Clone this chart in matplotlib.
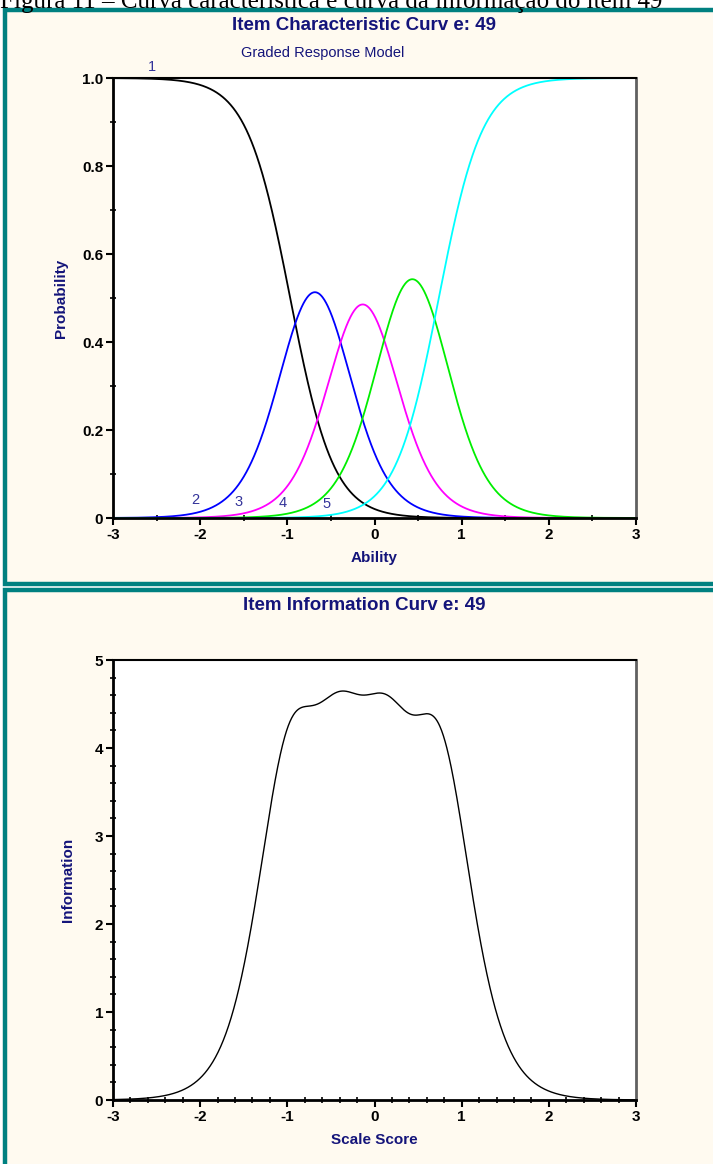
import numpy as np
import matplotlib
matplotlib.use("Agg")
import matplotlib.pyplot as plt
from matplotlib.patches import Rectangle
from matplotlib.ticker import MultipleLocator, FixedLocator

# ---- data: graded response model parameters ----
item_label = "49"
discrimination = 4.0
thresholds = [-0.967, -0.40, 0.13, 0.738]
category_labels = ["1", "2", "3", "4", "5"]
category_colors = ["#000000", "#0000ff", "#ff00ff", "#00ee00", "#00ffff"]
label_pos_x = [-2.55, -2.06, -1.555, -1.05, -0.556]
label_pos_y = [1.025, 0.041, 0.037, 0.034, 0.032]
x_ticks = [-3, -2, -1, 0, 1, 2, 3]
x_tick_labels = ["-3", "-2", "-1", "0", "1", "2", "3"]
p_ticks = [0, 0.2, 0.4, 0.6, 0.8, 1.0]
p_tick_labels = ["0", "0.2", "0.4", "0.6", "0.8", "1.0"]
i_ticks = [0, 1, 2, 3, 4, 5]
i_tick_labels = ["0", "1", "2", "3", "4", "5"]

theta = np.linspace(-3, 3, 1201)


def cum_probs(th):
    a = discrimination
    ps = [np.ones_like(th)]
    for b in thresholds:
        ps.append(1.0 / (1.0 + np.exp(-a * (th - b))))
    ps.append(np.zeros_like(th))
    return ps


pstar = cum_probs(theta)
cat_probs = [pstar[k] - pstar[k + 1] for k in range(len(thresholds) + 1)]
dstar = [discrimination * p * (1 - p) for p in pstar]
info = np.zeros_like(theta)
for k in range(len(cat_probs)):
    dp = dstar[k] - dstar[k + 1]
    info += dp ** 2 / np.maximum(cat_probs[k], 1e-12)

# ---- figure ----
W, H = 713, 1164
fig = plt.figure(figsize=(W / 100, H / 100), dpi=100)
fig.patch.set_facecolor("white")

NAVY = "#14147a"
LBL = "#33339a"
TEAL = "#008080"
CREAM = "#fffaf0"
FONT = ["Liberation Sans Narrow", "Liberation Sans", "DejaVu Sans"]


def fx(px):
    return px / W


def fy(py):
    return 1 - py / H


# caption (cut at top, as in the source)
fig.text(fx(0), fy(8), "Figura 11 \u2013 Curva característica e curva da informação do item 49",
         family=["Liberation Serif", "DejaVu Serif"], fontsize=18, ha="left", va="baseline", color="black")

# panels
for (top, bot) in [(10, 584), (590, 1175)]:
    r = Rectangle((fx(5), fy(bot)), fx(720) - fx(5), fy(top) - fy(bot), transform=fig.transFigure,
                  facecolor=CREAM, edgecolor=TEAL, linewidth=3.2, zorder=0)
    fig.add_artist(r)


def style_axes(ax):
    ax.set_facecolor("white")
    for s in ["left", "bottom"]:
        ax.spines[s].set_linewidth(2.0)
        ax.spines[s].set_color("black")
    ax.spines["top"].set_linewidth(1.5)
    ax.spines["top"].set_color("black")
    ax.spines["right"].set_linewidth(2.0)
    ax.spines["right"].set_color("#606060")
    ax.tick_params(which="major", direction="out", length=5, width=1.5, labelsize=11, pad=2)
    ax.tick_params(which="minor", direction="inout", length=4, width=1.2)
    for t in ax.get_xticklabels() + ax.get_yticklabels():
        t.set_fontweight("bold")
        t.set_family(FONT)


# top axes
ax1 = fig.add_axes([fx(113), fy(518), fx(636) - fx(113), fy(78) - fy(518)])
for p, c in zip(cat_probs, category_colors):
    ax1.plot(theta, p, color=c, lw=1.3, clip_on=False)
ax1.set_xlim(-3, 3)
ax1.set_ylim(0, 1)
ax1.xaxis.set_major_locator(FixedLocator(x_ticks))
ax1.set_xticklabels(x_tick_labels)
ax1.xaxis.set_minor_locator(MultipleLocator(0.5))
ax1.yaxis.set_major_locator(FixedLocator(p_ticks))
ax1.set_yticklabels(p_tick_labels)
ax1.yaxis.set_minor_locator(MultipleLocator(0.1))
style_axes(ax1)
for lab, lx, ly in zip(category_labels, label_pos_x, label_pos_y):
    ax1.text(lx, ly, lab, color=LBL, fontsize=10.5, ha="center", va="center", family=FONT, clip_on=False)
ax1.set_xlabel("Ability", color=NAVY, fontweight="bold", fontsize=11, family=FONT, labelpad=7)
ax1.set_ylabel("Probability", color=NAVY, fontweight="bold", fontsize=11, family=FONT, labelpad=10)
fig.text(fx(364), fy(25), "Item Characteristic Curv e: " + item_label, color=NAVY, fontweight="bold",
         fontsize=13.5, family=FONT, ha="center", va="center")
fig.text(fx(323), fy(53), "Graded Response Model", color=NAVY, fontsize=10.5, family=FONT,
         ha="center", va="center")

# bottom axes
ax2 = fig.add_axes([fx(113), fy(1100), fx(636) - fx(113), fy(660) - fy(1100)])
ax2.plot(theta, info, color="black", lw=1.0)
ax2.set_xlim(-3, 3)
ax2.set_ylim(0, 5)
ax2.xaxis.set_major_locator(FixedLocator(x_ticks))
ax2.set_xticklabels(x_tick_labels)
ax2.xaxis.set_minor_locator(MultipleLocator(0.2))
ax2.yaxis.set_major_locator(FixedLocator(i_ticks))
ax2.set_yticklabels(i_tick_labels)
ax2.yaxis.set_minor_locator(MultipleLocator(0.2))
style_axes(ax2)
ax2.set_xlabel("Scale Score", color=NAVY, fontweight="bold", fontsize=11, family=FONT, labelpad=7)
ax2.set_ylabel("Information", color=NAVY, fontweight="bold", fontsize=11, family=FONT, labelpad=14)
fig.text(fx(364), fy(606), "Item Information Curv e: " + item_label, color=NAVY, fontweight="bold",
         fontsize=13.5, family=FONT, ha="center", va="center")

fig.savefig("out.png", dpi=100, facecolor=fig.get_facecolor())
